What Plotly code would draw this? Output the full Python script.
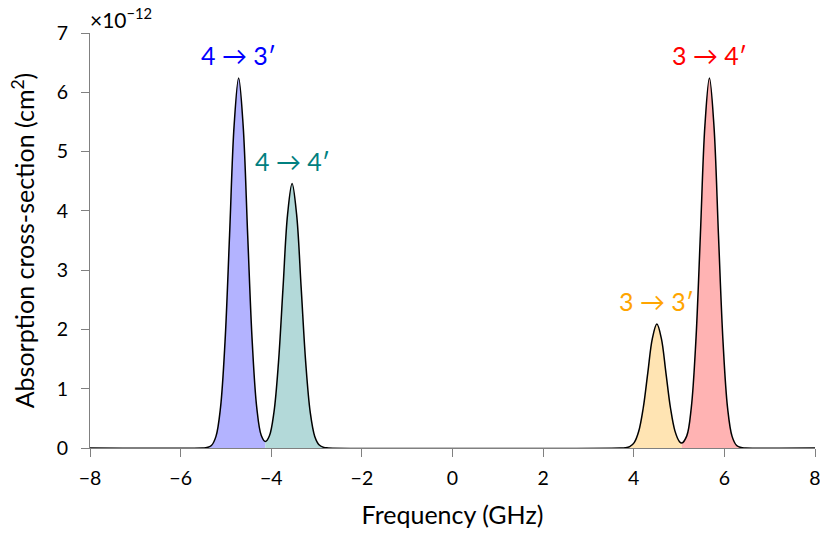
import plotly.graph_objects as go

# Absorption cross-section in units of 1e-12 cm^2
x_43 = [-5.52, -5.42, -5.32, -5.22, -5.12, -5.02, -4.92, -4.82, -4.72, -4.62, -4.52, -4.42, -4.32, -4.22, -4.13]
y_43 = [0.0009, 0.007, 0.0426, 0.196, 0.680, 1.794, 3.586, 5.433, 6.24, 5.433, 3.586, 1.794, 0.682, 0.210, 0.108]

x_44 = [-4.13, -4.04, -3.94, -3.84, -3.74, -3.64, -3.54, -3.44, -3.34, -3.24, -3.14, -3.04, -2.94, -2.84, -2.74]
y_44 = [0.108, 0.206, 0.605, 1.448, 2.705, 3.936, 4.46, 3.936, 2.705, 1.448, 0.604, 0.196, 0.0496, 0.0098, 0.0015]

x_33 = [3.71, 3.81, 3.91, 4.01, 4.11, 4.21, 4.31, 4.41, 4.51, 4.61, 4.71, 4.81, 4.91, 5.01, 5.06]
y_33 = [0.0007, 0.0046, 0.0232, 0.0918, 0.283, 0.679, 1.268, 1.844, 2.09, 1.844, 1.268, 0.679, 0.285, 0.107, 0.0837]

x_34 = [5.06, 5.17, 5.27, 5.37, 5.47, 5.57, 5.67, 5.77, 5.87, 5.97, 6.07, 6.17, 6.27, 6.37, 6.47]
y_34 = [0.0837, 0.205, 0.682, 1.794, 3.586, 5.433, 6.24, 5.433, 3.586, 1.794, 0.680, 0.196, 0.0426, 0.007, 0.0009]

x_range = [-8, 8]
y_range = [0, 7]
x_ticks = [-8, -6, -4, -2, 0, 2, 4, 6, 8]
y_ticks = [0, 1, 2, 3, 4, 5, 6, 7]

labels = ["4 → 3′", "4 → 4′", "3 → 3′", "3 → 4′"]
label_colors = ["#0000ff", "#008080", "#ffa500", "#ff0000"]
fill_colors = ["#b3b3ff", "#b3d9d9", "#ffe4b3", "#ffb3b3"]

segments = [(x_43, y_43), (x_44, y_44), (x_33, y_33), (x_34, y_34)]

FONT = "Lato"
fig = go.Figure()

for (xs, ys), fc in zip(segments, fill_colors):
    fig.add_trace(go.Scatter(x=xs, y=ys, mode="lines", fill="tozeroy",
                             fillcolor=fc, line=dict(width=0, shape="spline", color=fc),
                             hoverinfo="skip", showlegend=False))

# total curve (black line) over the full range
tx = [x_range[0]] + x_43 + x_44[1:] + x_33 + x_34[1:] + [x_range[1]]
ty = [0] + y_43 + y_44[1:] + y_33 + y_34[1:] + [0]
fig.add_trace(go.Scatter(x=tx, y=ty, mode="lines",
                         line=dict(color="black", width=1.5, shape="spline", smoothing=1),
                         hoverinfo="skip", showlegend=False))

for (xs, ys), lab, col in zip(segments, labels, label_colors):
    i = ys.index(max(ys))
    fig.add_annotation(x=xs[i], y=ys[i], text=lab, showarrow=False,
                       yanchor="bottom", yshift=6,
                       font=dict(family=FONT, size=25, color=col))

fig.add_annotation(xref="paper", yref="paper", x=0, y=1, xanchor="left", yanchor="bottom",
                   text="×10<sup>−12</sup>", showarrow=False, xshift=-2, yshift=-1,
                   font=dict(family=FONT, size=21, color="black"))

axis_common = dict(showgrid=False, zeroline=False, showline=True, linecolor="#808080",
                   linewidth=1.3, ticks="outside", tickcolor="#808080", ticklen=8,
                   tickwidth=1.2, automargin=False, ticklabeloverflow="allow",
                   tickfont=dict(family=FONT, size=19.5, color="black"))

fig.update_layout(
    width=820, height=536,
    margin=dict(l=90, r=5, t=33, b=88),
    plot_bgcolor="white", paper_bgcolor="white",
    xaxis=dict(range=x_range, tickvals=x_ticks, ticklabelstandoff=4,
               ticktext=[str(v).replace("-", "−") for v in x_ticks],
               title=dict(text="Frequency (GHz)", font=dict(family=FONT, size=25, color="black"), standoff=18),
               **axis_common),
    yaxis=dict(range=y_range, tickvals=y_ticks, ticktext=[str(v) for v in y_ticks],
               ticklabelstandoff=9,
               title=dict(text="Absorption cross-section (cm<sup>2</sup>)", font=dict(family=FONT, size=25, color="black"), standoff=14),
               **axis_common),
)

fig.write_html("out.html")
